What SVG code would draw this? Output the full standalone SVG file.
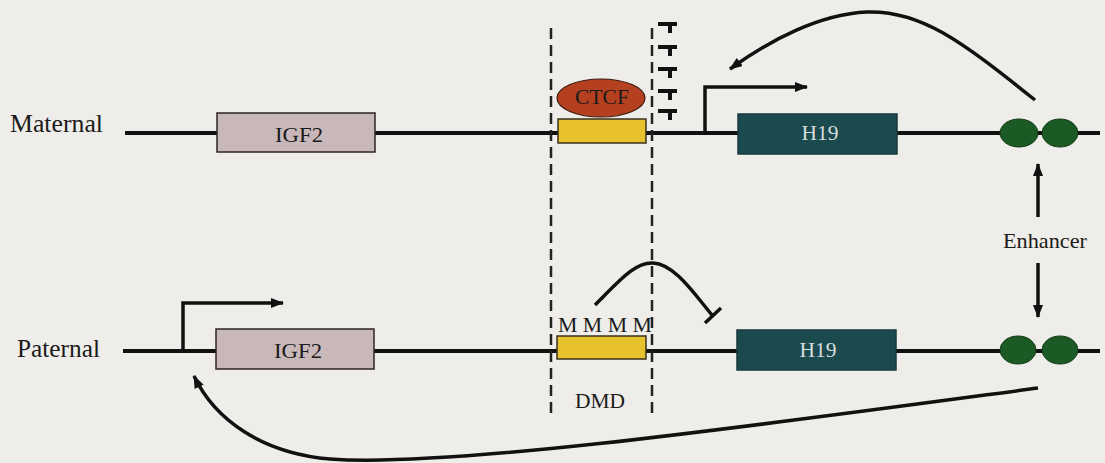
<svg xmlns="http://www.w3.org/2000/svg" width="1105" height="463" viewBox="0 0 1105 463">
  <defs>
    <marker id="arrow" viewBox="0 0 13 10" refX="12" refY="5" markerWidth="13" markerHeight="10" markerUnits="userSpaceOnUse" orient="auto">
      <path d="M0,0 L13,5 L0,10 Z" fill="#111"/>
    </marker>
    <style>
      .chrom { stroke: #111; stroke-width: 4; fill: none; }
      .line { stroke: #111; stroke-width: 3.5; fill: none; }
      .dash { stroke: #222; stroke-width: 2.5; stroke-dasharray: 11 6; fill: none; }
      .igf2 { fill: #c8b8ba; stroke: #2e2424; stroke-width: 1.5; }
      .h19 { fill: #1b4a4e; stroke: #173a3c; stroke-width: 1.5; }
      .dmd { fill: #e8c22c; stroke: #3a3020; stroke-width: 1.5; }
      .ctcf { fill: #b5401f; stroke: #3a1a10; stroke-width: 1.2; }
      .enh { fill: #1b5a24; stroke: #123a16; stroke-width: 1; }
      text { font-family: "Liberation Serif", "Times New Roman", serif; fill: #1a1a1a; }
      .light { fill: #d8dcdc; }
    </style>
  </defs>

  <rect x="0" y="0" width="1105" height="463" fill="#eeede9"/>

  <!-- chromosome backbones -->
  <g id="backbones">
    <line class="chrom" x1="125" y1="133" x2="1100" y2="133"/>
    <line class="chrom" x1="123" y1="351" x2="1100" y2="351"/>
  </g>

  <!-- DMD boundary -->
  <g id="dmd-bounds">
    <line class="dash" x1="551" y1="28" x2="551" y2="418"/>
    <line class="dash" x1="652" y1="28" x2="652" y2="418"/>
  </g>

  <text id="label-maternal" x="10" y="132" font-size="25" textLength="93" lengthAdjust="spacingAndGlyphs">Maternal</text>
  <text id="label-paternal" x="17" y="357" font-size="25" textLength="83" lengthAdjust="spacingAndGlyphs">Paternal</text>

  <!-- maternal allele -->
  <g id="mat-igf2">
    <rect class="igf2" x="217" y="113" width="158" height="39"/>
    <text x="299" y="142" font-size="22" text-anchor="middle" textLength="48" lengthAdjust="spacingAndGlyphs">IGF2</text>
  </g>
  <g id="mat-dmd">
    <rect class="dmd" x="558" y="119" width="88" height="24"/>
  </g>
  <g id="ctcf">
    <ellipse class="ctcf" cx="601" cy="98" rx="44" ry="19"/>
    <text x="602" y="104" font-size="22" text-anchor="middle" textLength="54" lengthAdjust="spacingAndGlyphs" fill="#2a1a10">CTCF</text>
  </g>
  <g id="insulator-blocks" stroke="#111" stroke-width="4" fill="none">
    <path d="M658,24 H677 M670,24 V33"/>
    <path d="M658,47 H677 M670,47 V56"/>
    <path d="M658,69 H677 M670,69 V78"/>
    <path d="M658,91 H677 M670,91 V100"/>
    <path d="M658,111 H677 M670,111 V120"/>
  </g>
  <g id="mat-h19">
    <rect class="h19" x="738" y="114" width="159" height="40"/>
    <text class="light" x="820" y="140" font-size="22" text-anchor="middle" textLength="37" lengthAdjust="spacingAndGlyphs">H19</text>
  </g>
  <g id="mat-enhancer">
    <ellipse class="enh" cx="1019" cy="133" rx="19" ry="14"/>
    <ellipse class="enh" cx="1060" cy="133" rx="18" ry="14"/>
  </g>

  <!-- paternal allele -->
  <g id="pat-igf2">
    <rect class="igf2" x="216" y="329" width="158" height="40"/>
    <text x="298" y="358" font-size="22" text-anchor="middle" textLength="48" lengthAdjust="spacingAndGlyphs">IGF2</text>
  </g>
  <g id="pat-dmd">
    <rect class="dmd" x="557" y="336" width="89" height="23"/>
    <text x="558" y="332" font-size="21" textLength="94" lengthAdjust="spacingAndGlyphs">M M M M</text>
    <text x="600" y="408" font-size="21" text-anchor="middle" textLength="50" lengthAdjust="spacingAndGlyphs">DMD</text>
  </g>
  <g id="pat-h19">
    <rect class="h19" x="737" y="330" width="159" height="40"/>
    <text class="light" x="818" y="357" font-size="22" text-anchor="middle" textLength="37" lengthAdjust="spacingAndGlyphs">H19</text>
  </g>
  <g id="pat-enhancer">
    <ellipse class="enh" cx="1018" cy="350" rx="18" ry="14"/>
    <ellipse class="enh" cx="1060" cy="350" rx="18" ry="14"/>
  </g>

  <g id="label-enhancer">
    <text x="1003" y="248" font-size="21" textLength="84" lengthAdjust="spacingAndGlyphs">Enhancer</text>
  </g>

  <!-- connectors -->
  <g id="connectors">
    <!-- transcription start sites -->
    <path class="line" d="M705,133 V87 H807" marker-end="url(#arrow)"/>
    <path class="line" d="M183,351 V303 H283" marker-end="url(#arrow)"/>
    <!-- enhancer acting on H19 -->
    <path class="line" d="M1035,100 C960,40 920,10 867,12 C820,14 770,40 730,69" marker-end="url(#arrow)"/>
    <!-- enhancer acting on IGF2 -->
    <path class="line" d="M1038,388 C760,425 450,468 330,459 C262,453 215,420 194,376" marker-end="url(#arrow)"/>
    <!-- enhancer pointers -->
    <line class="line" x1="1038" y1="217" x2="1038" y2="164" marker-end="url(#arrow)"/>
    <line class="line" x1="1038" y1="263" x2="1038" y2="317" marker-end="url(#arrow)"/>
    <!-- methylation blocking -->
    <path class="line" d="M595,305 C620,280 635,262 653,263 C675,264 695,295 712,315"/>
    <line class="line" x1="705" y1="323" x2="721" y2="308"/>
  </g>
</svg>
